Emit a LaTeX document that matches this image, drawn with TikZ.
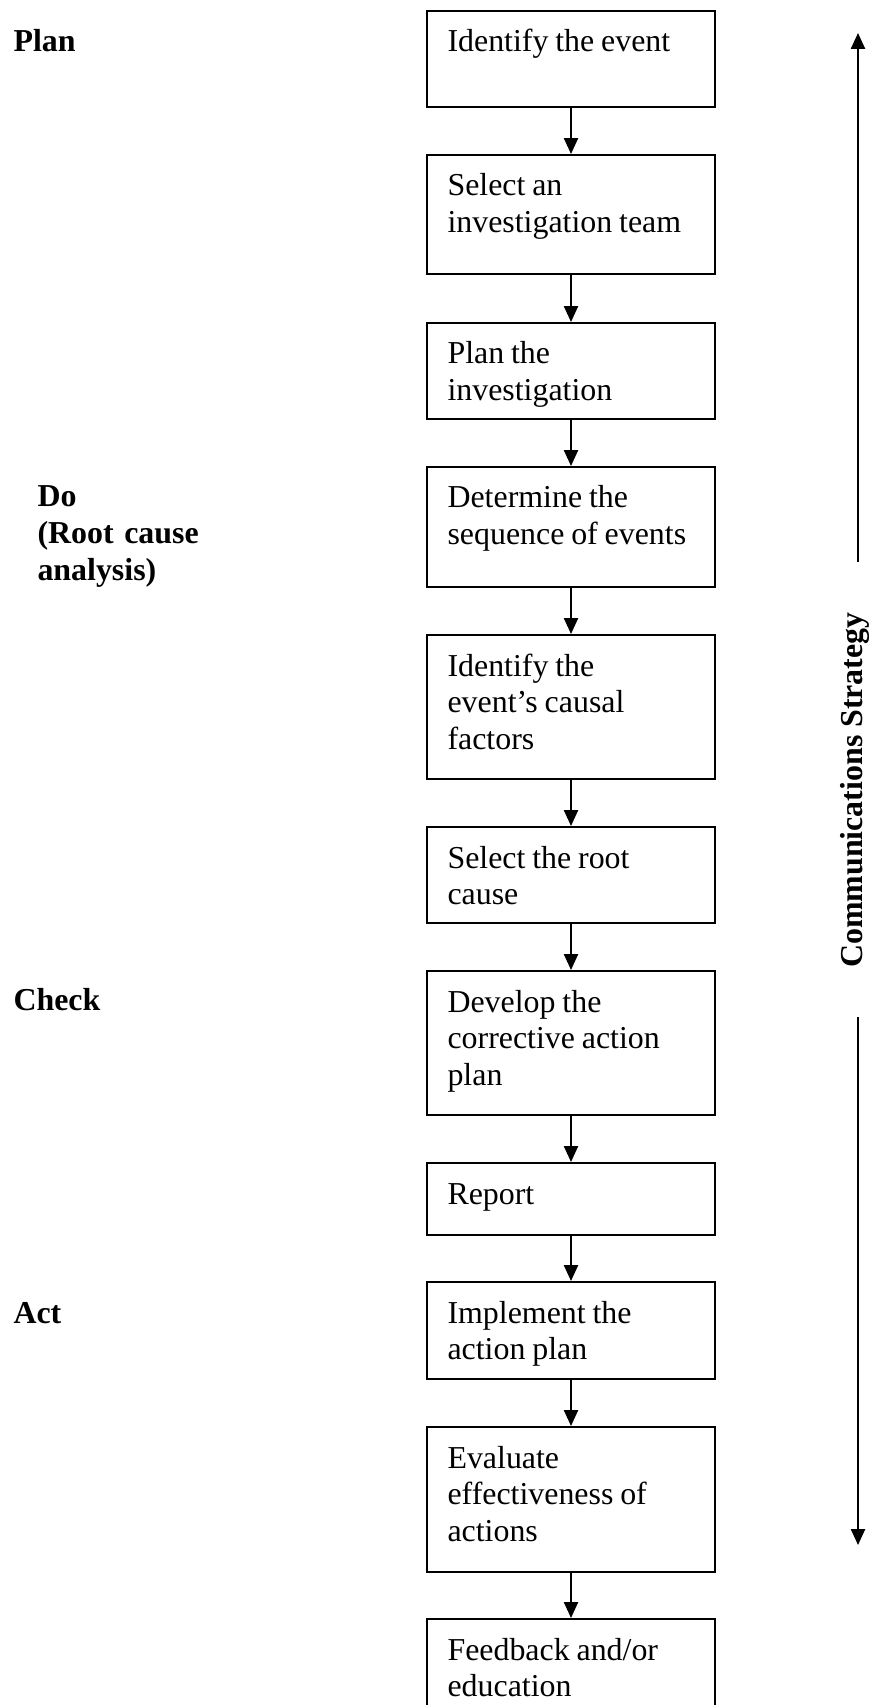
\documentclass[tikz,border=0pt]{standalone}
\usepackage{fontspec}
\setmainfont{Liberation Serif}
\usetikzlibrary{arrows.meta,calc}
\tikzset{
  box/.style={draw, line width=0.75pt, rectangle, inner sep=0pt, minimum width=108.35pt},
  txt/.style={inner sep=0pt, text width=105pt, align=left, font=\fontsize{12pt}{13.9pt}\selectfont, execute at begin node={\spaceskip=0.215em\relax}},
  lab/.style={inner sep=0pt, text width=80pt, align=left, font=\fontsize{12pt}{13.9pt}\selectfont\bfseries},
  arr/.style={line width=0.75pt, -{Triangle[width=5.3pt,length=6pt]}},
}
\newcommand\flowbox[4]{%
  \node[box, anchor=north west, minimum height=#3*0.3762pt] (#1) at (426,#2) {};
  \node[txt, anchor=base west] (#1t) at ($(#1.north west)+(21,42)$) {#4};
}
\begin{document}
\begin{tikzpicture}[x=0.3762pt, y=-0.3762pt]
\useasboundingbox (0,0) rectangle (868,1705);
\clip (0,0) rectangle (868,1705);
\flowbox{b1}{10}{96}{Identify the event}
\flowbox{b2}{154}{119}{Select an\\investigation team}
\flowbox{b3}{322}{96}{Plan the\\investigation}
\flowbox{b4}{466}{120}{Determine the\\sequence of events}
\flowbox{b5}{634}{144}{Identify the\\event’s causal\\factors}
\flowbox{b6}{826}{96}{Select the root\\cause}
\flowbox{b7}{970}{144}{Develop the\\corrective action\\plan}
\flowbox{b8}{1162}{72}{Report}
\flowbox{b9}{1281}{97}{Implement the\\action plan}
\flowbox{b10}{1426}{145}{Evaluate\\effectiveness of\\actions}
\flowbox{b11}{1618}{110}{Feedback and/or\\education}
\foreach \a/\b in {b1/b2,b2/b3,b3/b4,b4/b5,b5/b6,b6/b7,b7/b8,b8/b9,b9/b10,b10/b11}
  \draw[arr] (\a.south) -- (\b.north);
\node[lab, anchor=base west] (plan) at (13,52) {Plan};
\node[lab, anchor=base west] (do) at (37,507) {Do\\(Root cause\\analysis)};
\node[lab, anchor=base west] (check) at (13,1010) {Check};
\node[lab, anchor=base west] (act) at (13,1323) {Act};
\node[rotate=90, inner sep=0pt, font=\fontsize{12pt}{13.9pt}\selectfont\bfseries] (cs) at (855,790) {Communications Strategy};
\coordinate (csTopStart) at (858,562);
\coordinate (csTop) at (858,33);
\coordinate (csBotStart) at (858,1017);
\coordinate (csBot) at (858,1545);
\draw[arr] (csTopStart) -- (csTop);
\draw[arr] (csBotStart) -- (csBot);
\end{tikzpicture}
\end{document}
